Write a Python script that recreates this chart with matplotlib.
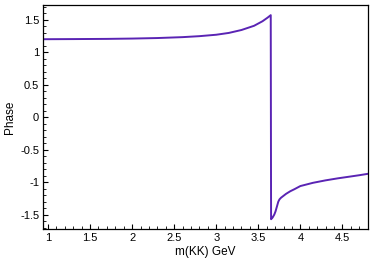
import numpy as np
import matplotlib
matplotlib.use("Agg")
import matplotlib.pyplot as plt
from matplotlib.ticker import MultipleLocator

plt.rcParams['font.family'] = ['Liberation Sans', 'DejaVu Sans']

# m(KK) in GeV and phase values
mass = [0.945, 1.3, 1.7, 2.0, 2.3, 2.6, 2.8, 3.0, 3.15, 3.3, 3.45, 3.55, 3.61, 3.648,
        3.652, 3.67, 3.69, 3.705, 3.716, 3.727, 3.738, 3.752, 3.77, 3.80, 3.83, 3.88,
        3.93, 4.0, 4.15, 4.3, 4.45, 4.6, 4.7, 4.8]
phase = [1.203, 1.205, 1.208, 1.213, 1.221, 1.235, 1.250, 1.272, 1.300, 1.345, 1.41, 1.48, 1.535, 1.574,
         -1.571, -1.545, -1.50, -1.45, -1.40, -1.35, -1.30, -1.265, -1.24, -1.21, -1.18, -1.14,
         -1.108, -1.06, -1.01, -0.972, -0.94, -0.912, -0.893, -0.872]

fig = plt.figure(figsize=(3.74, 2.64), dpi=100)
ax = fig.add_axes([0.116, 0.133, 0.867, 0.848])

ax.plot(mass, phase, color="#5a24b4", lw=1.4)

ax.set_xlim(0.945, 4.8)
ax.set_ylim(-1.72, 1.73)
ax.xaxis.set_minor_locator(MultipleLocator(0.1))
ax.yaxis.set_minor_locator(MultipleLocator(0.1))
ax.set_xticks([1, 1.5, 2, 2.5, 3, 3.5, 4, 4.5])
ax.set_xticklabels(["1", "1.5", "2", "2.5", "3", "3.5", "4", "4.5"])
ax.set_yticks([-1.5, -1, -0.5, 0, 0.5, 1, 1.5])
ax.set_yticklabels(["-1.5", "-1", "-0.5", "0", "0.5", "1", "1.5"])
ax.tick_params(which="both", direction="in", labelsize=8, top=False, right=False)
ax.tick_params(which="major", length=3.8, width=0.8, pad=3)
ax.tick_params(which="minor", length=2, width=0.6)
for s in ax.spines.values():
    s.set_linewidth(0.9)

ax.set_xlabel("m(KK) GeV", fontsize=8.5, labelpad=2)
ax.set_ylabel("Phase", fontsize=8.5, labelpad=3)

fig.savefig("out.png", dpi=100)
